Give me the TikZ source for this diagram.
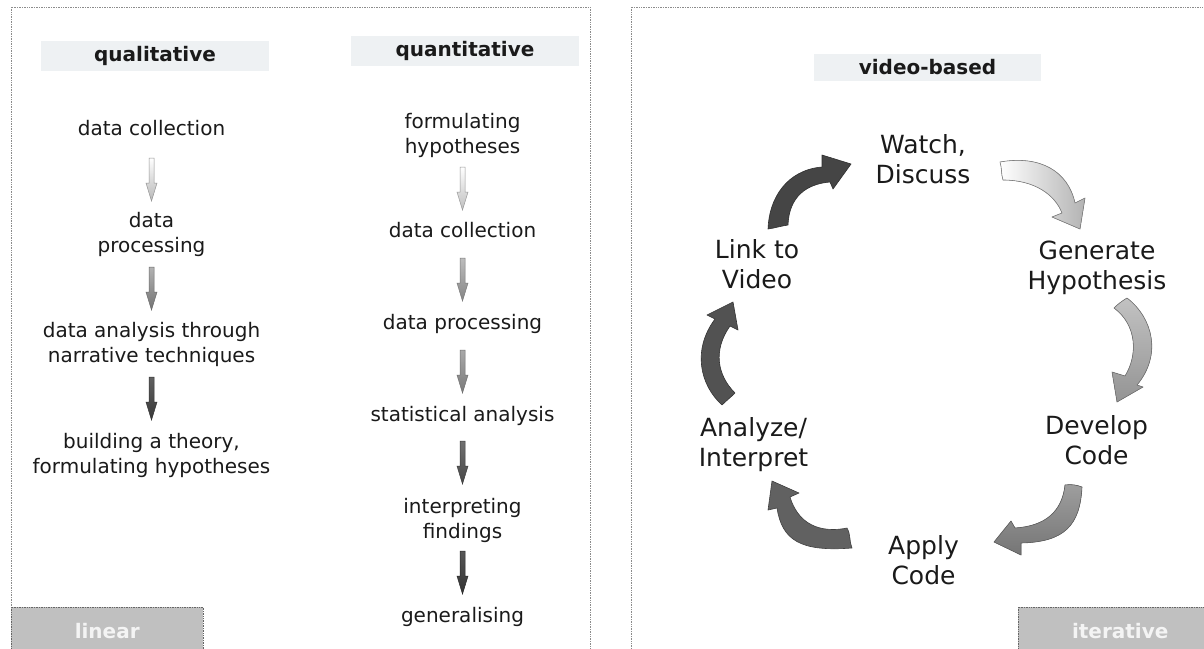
\documentclass[tikz,border=0pt]{standalone}
\usepackage{fontspec}
\setmainfont{DejaVu Sans}
\definecolor{ink}{HTML}{1A1A1A}
\definecolor{headfill}{HTML}{EEF1F3}
\definecolor{tabfill}{HTML}{C0C0C0}
\definecolor{rulegray}{HTML}{8C8C8C}
\definecolor{tabtext}{HTML}{F4F4F4}

% straight downward block arrow: x, y of tail, top colour, bottom colour, outline
\newcommand\flowarrow[5]{%
  \draw[draw=#5, top color=#3, bottom color=#4, line width=0.5pt, line join=miter]
    (#1-2.5,#2) -- (#1+2.5,#2) -- (#1+2.5,#2+25) -- (#1+5.5,#2+25)
    -- (#1,#2+43) -- (#1-5.5,#2+25) -- (#1-2.5,#2+25) -- cycle;}

\tikzset{
  panel/.style={draw=rulegray, line width=0.8pt, dash pattern=on 0.8pt off 0.9pt},
  headbox/.style={fill=headfill, minimum width=228pt, minimum height=30pt, inner sep=0pt,
    font=\fontsize{20}{24}\selectfont\bfseries, text=ink},
  stage/.style={align=center, font=\fontsize{20}{25}\selectfont, text=ink, inner sep=0pt},
  cyc/.style={align=center, font=\fontsize{25}{30}\selectfont, text=ink, inner sep=0pt},
  tab/.style={fill=tabfill, minimum height=48pt, inner sep=0pt, anchor=north west,
    font=\fontsize{20}{24}\selectfont\bfseries, text=tabtext},
  curlarrow/.style={line width=0.6pt, line join=round},
}

\begin{document}
\begin{tikzpicture}[x=1pt,y=-1pt]
\useasboundingbox (0,0) rectangle (1204,648);
\clip (0,0) rectangle (1204,648);
\fill[white] (0,0) rectangle (1204,648);

% ---------- the two panels ----------
\draw[panel] (11,7) rectangle (590,680);
\draw[panel] (631,7) rectangle (1240,680);

% ---------- linear: qualitative column ----------
\node[headbox] (qual) at (155,56) {qualitative};
\node[stage] (q1) at (151.5,128) {data collection};
\node[stage] (q2) at (151.5,234.5) {data\\processing};
\node[stage] (q3) at (151.5,344) {data analysis through\\narrative techniques};
\node[stage] (q4) at (151.5,455) {building a theory,\\formulating hypotheses};
\flowarrow{151.5}{158}{white}{black!28}{black!42}
\flowarrow{151.5}{267}{black!30}{black!55}{black!58}
\flowarrow{151.5}{377}{black!62}{black!78}{black!80}

% ---------- linear: quantitative column ----------
\node[headbox] (quan) at (465,51) {quantitative};
\node[stage] (n1) at (462.5,135) {formulating\\hypotheses};
\node[stage] (n2) at (462.5,230) {data collection};
\node[stage] (n3) at (462.5,324) {data processing};
\node[stage] (n4) at (462.5,416) {statistical analysis};
\node[stage] (n5) at (462.5,520) {interpreting\\findings};
\node[stage] (n6) at (462.5,617) {generalising};
\flowarrow{462.5}{167}{white}{black!25}{black!40}
\flowarrow{462.5}{258}{black!26}{black!48}{black!52}
\flowarrow{462.5}{350}{black!34}{black!52}{black!56}
\flowarrow{462.5}{441}{black!56}{black!72}{black!76}
\flowarrow{462.5}{551}{black!66}{black!80}{black!84}

% ---------- iterative: video-based cycle ----------
\node[headbox, minimum width=227pt, minimum height=27pt] (video) at (927.5,67.5) {video-based};
\node[cyc] (watch) at (923,159.5) {Watch,\\Discuss};
\node[cyc] (hyp) at (1097,267.5) {Generate\\Hypothesis};
\node[cyc] (dev) at (1096.5,440.5) {Develop\\Code};
\node[cyc] (apply) at (923.5,560.5) {Apply\\Code};
\node[cyc] (anl) at (753.5,445) {Analyze/\\Interpret};
\node[cyc] (link) at (757,264.5) {Link to\\Video};

% Link to Video -> Watch, Discuss
\filldraw[curlarrow, draw=black!82, fill=black!73]
  (768,229) .. controls (769,198) and (787,170) .. (822,167)
  -- (822,155) -- (851,164) -- (833,189) -- (830,182)
  .. controls (806,184) and (789,197) .. (788,225)
  .. controls (781,226) and (775,228) .. (768,229) -- cycle;

% Watch, Discuss -> Generate Hypothesis
\filldraw[curlarrow, draw=black!50, left color=white, right color=black!30]
  (1000,162) .. controls (1040,155) and (1068,171) .. (1075,203)
  -- (1085,198) -- (1080,229) -- (1052,217) -- (1062,213)
  .. controls (1055,195) and (1035,180) .. (1003,180)
  .. controls (1001,174) and (1002,168) .. (1000,162) -- cycle;

% Generate Hypothesis -> Develop Code
\filldraw[curlarrow, draw=black!55, top color=black!24, bottom color=black!42]
  (1127,298) .. controls (1153,318) and (1162,355) .. (1137,385)
  -- (1143,387) -- (1117,402) -- (1112,372) -- (1125,376)
  .. controls (1138,355) and (1137,325) .. (1114,308)
  .. controls (1118,304) and (1122,301) .. (1127,298) -- cycle;

% Develop Code -> Apply Code
\filldraw[curlarrow, draw=black!62, top color=black!38, bottom color=black!54]
  (1082,487) .. controls (1080,525) and (1065,542) .. (1021,543)
  -- (1021,555) -- (994,542) -- (1011,521) -- (1015,528)
  .. controls (1045,526) and (1062,512) .. (1065,485)
  .. controls (1071,484) and (1077,485) .. (1082,487) -- cycle;

% Apply Code -> Analyze/Interpret
\filldraw[curlarrow, draw=black!75, fill=black!62]
  (847,528) .. controls (828,532) and (800,530) .. (790,497)
  -- (799,493) -- (772,481) -- (768,510) -- (777,508)
  .. controls (782,540) and (800,552) .. (852,548)
  .. controls (849,541) and (851,535) .. (847,528) -- cycle;

% Analyze/Interpret -> Link to Video
\filldraw[curlarrow, draw=black!80, fill=black!68]
  (722,405) .. controls (700,385) and (692,350) .. (715,319)
  -- (707,315) -- (733,302) -- (738,330) -- (730,326)
  .. controls (713,350) and (717,375) .. (735,393)
  .. controls (731,397) and (726,401) .. (722,405) -- cycle;

% ---------- bottom tabs ----------
\node[tab, minimum width=192pt] (lin) at (11,607) {linear};
\draw[panel, draw=black!60] (lin.south west) -- (lin.north west) -- (lin.north east) -- (lin.south east);
\node[tab, minimum width=204pt] (itr) at (1018,607) {iterative};
\draw[panel, draw=black!60] (itr.south west) -- (itr.north west) -- (itr.north east);
\end{tikzpicture}
\end{document}
